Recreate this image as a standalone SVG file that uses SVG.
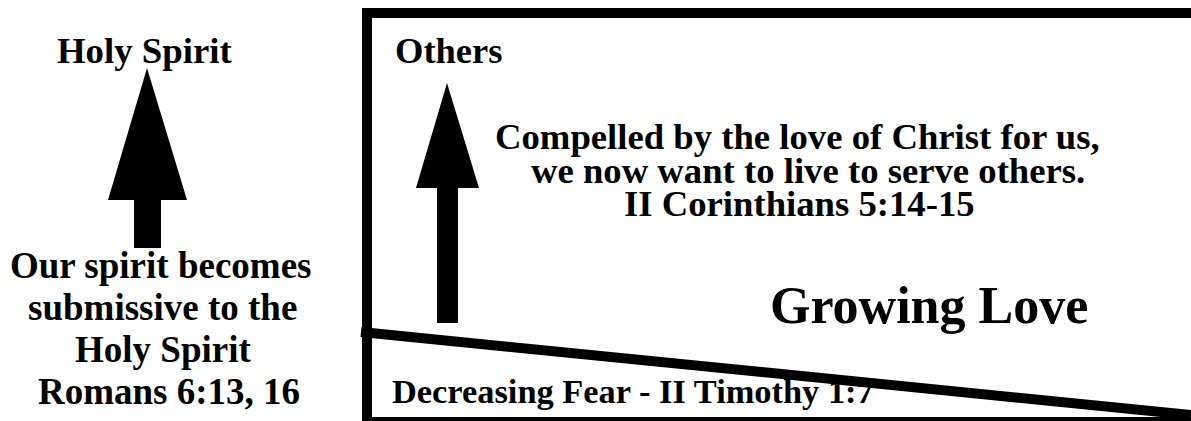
<svg xmlns="http://www.w3.org/2000/svg" width="1191" height="421" viewBox="0 0 1191 421">
<style>
text{font-family:"Liberation Serif","Times New Roman",serif;font-weight:bold;fill:#000}
.arrow{fill:#000;stroke:none}
.frame{fill:none;stroke:#000;stroke-width:10;stroke-linejoin:miter}
</style>
<rect width="1191" height="421" fill="#fff"/>
<g id="left-panel">
<text x="57" y="63" font-size="36.8">Holy Spirit</text>
<text x="10" y="277.5" font-size="37">Our spirit becomes</text>
<text x="28" y="320" font-size="37">submissive to the</text>
<text x="75" y="362" font-size="37">Holy Spirit</text>
<text x="38" y="404" font-size="37">Romans 6:13, 16</text>
</g>
<g id="box">
<polyline class="frame" points="1191,13 367,13 367,422 1191,422"/>
<text x="395" y="63.3" font-size="36.5">Others</text>
<text x="495" y="149.3" font-size="36.7">Compelled by the love of Christ for us,</text>
<text x="531" y="182.7" font-size="36.7">we now want to live to serve others.</text>
<text x="624" y="216" font-size="36.7">II Corinthians 5:14-15</text>
<text x="770" y="323.3" font-size="52">Growing Love</text>
<text x="392" y="403.3" font-size="34.4">Decreasing Fear - II Timothy 1:7</text>
</g>
<g id="connectors">
<polygon class="arrow" points="147,68 187,200 161,200 161,248 134,248 134,200 108,200"/>
<polygon class="arrow" points="447,83 479,188 458,188 458,323 437,323 437,188 416,188"/>
<line x1="361" y1="332" x2="1191" y2="415" stroke="#000" stroke-width="10"/>
</g>
</svg>
